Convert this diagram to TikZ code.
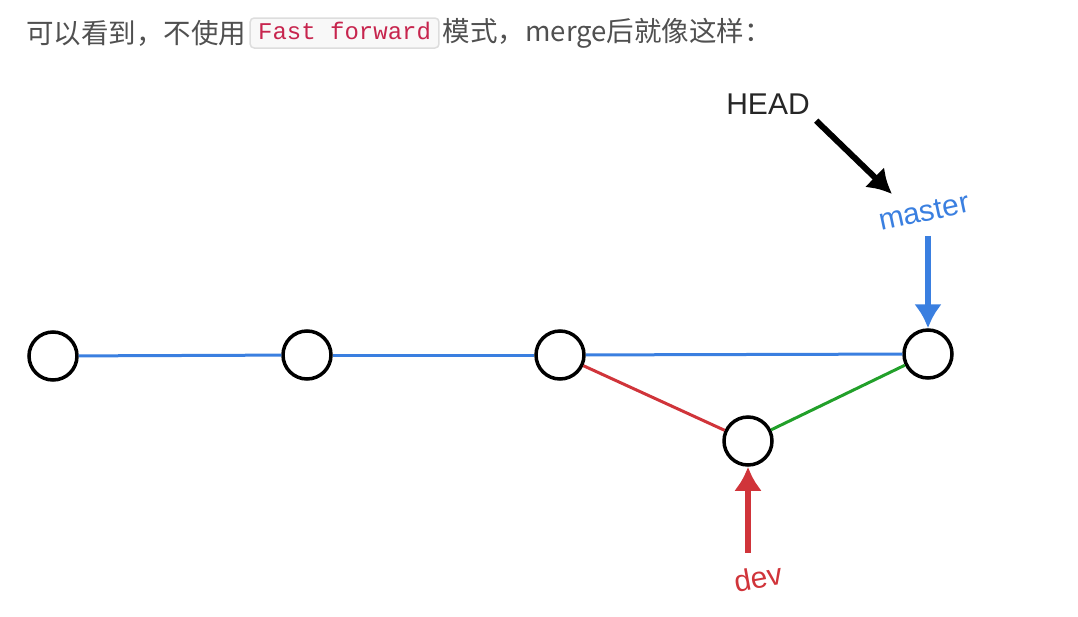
\documentclass[tikz,border=0pt]{standalone}
\usepackage{fontspec}
\setmainfont{Liberation Sans}
\setmonofont{Liberation Mono}
\newfontfamily\cjk{Noto Sans CJK SC}
\usetikzlibrary{positioning,arrows.meta}
\definecolor{textgray}{HTML}{505050}
\definecolor{codered}{HTML}{C7254E}
\definecolor{codebg}{HTML}{F8F8F8}
\definecolor{codeline}{HTML}{DDDDDD}
\definecolor{gitblue}{HTML}{3A7FE0}
\definecolor{gitred}{HTML}{D0343A}
\definecolor{gitgreen}{HTML}{22A02A}
\tikzset{
  commit/.style={circle,draw=black,line width=3.5pt,minimum size=48pt,inner sep=0pt},
  branch/.style={line width=3pt},
  ptr/.style={line width=6pt,->},
  tag/.style={font=\fontsize{30}{32}\selectfont,inner sep=2pt},
  line/.style={font=\cjk\fontsize{27.5}{33}\selectfont,text=textgray,inner sep=0pt},
}
\begin{document}
\begin{tikzpicture}[x=1pt,y=1pt,>={Latex[length=24pt,width=28pt]}]
\useasboundingbox (0,0) rectangle (1078,-616);
% caption line
\node[line,anchor=west] (intro) at (26,-33) {可以看到，不使用};
\node[right=3pt of intro,draw=codeline,fill=codebg,rounded corners=4pt,line width=1.5pt,
  text=codered,font=\ttfamily\fontsize{24}{26}\selectfont,inner xsep=8pt,
  minimum height=30pt,text height=17pt,text depth=5pt,inner ysep=0pt] (code) {Fast forward};
\node[line,right=3pt of code] (rest) {模式，merge后就像这样：};

% commits
\foreach \n/\x/\y in {c1/53/356,c2/307/355,c3/560/355,c4/748/441,c5/928/354}
{
	\node[commit] (\n) at (\x,-\y) {};
}
\foreach \a/\b in {c1/c2,c2/c3,c3/c5}
{
	\draw[branch,gitblue] (\a)--(\b);
}
\draw[branch,gitred] (c3)--(c4);
\draw[branch,gitgreen] (c4)--(c5);

% pointers
\node[tag,text=black!85] (head) at (768,-104) {HEAD};
\node[tag,text=gitblue,rotate=12] (master) at (924,-212) {master};
\node[tag,text=gitred,rotate=10] (dev) at (758,-578) {dev};
\coordinate (headtip) at (892,-194);
\draw[ptr,black,shorten <=6pt] (head.south east)--(headtip);
\draw[ptr,gitblue,shorten <=12pt] (master.south -| c5)--(c5);
\draw[ptr,gitred,shorten <=12pt] (dev.north -| c4)--(c4);
\end{tikzpicture}
\end{document}
